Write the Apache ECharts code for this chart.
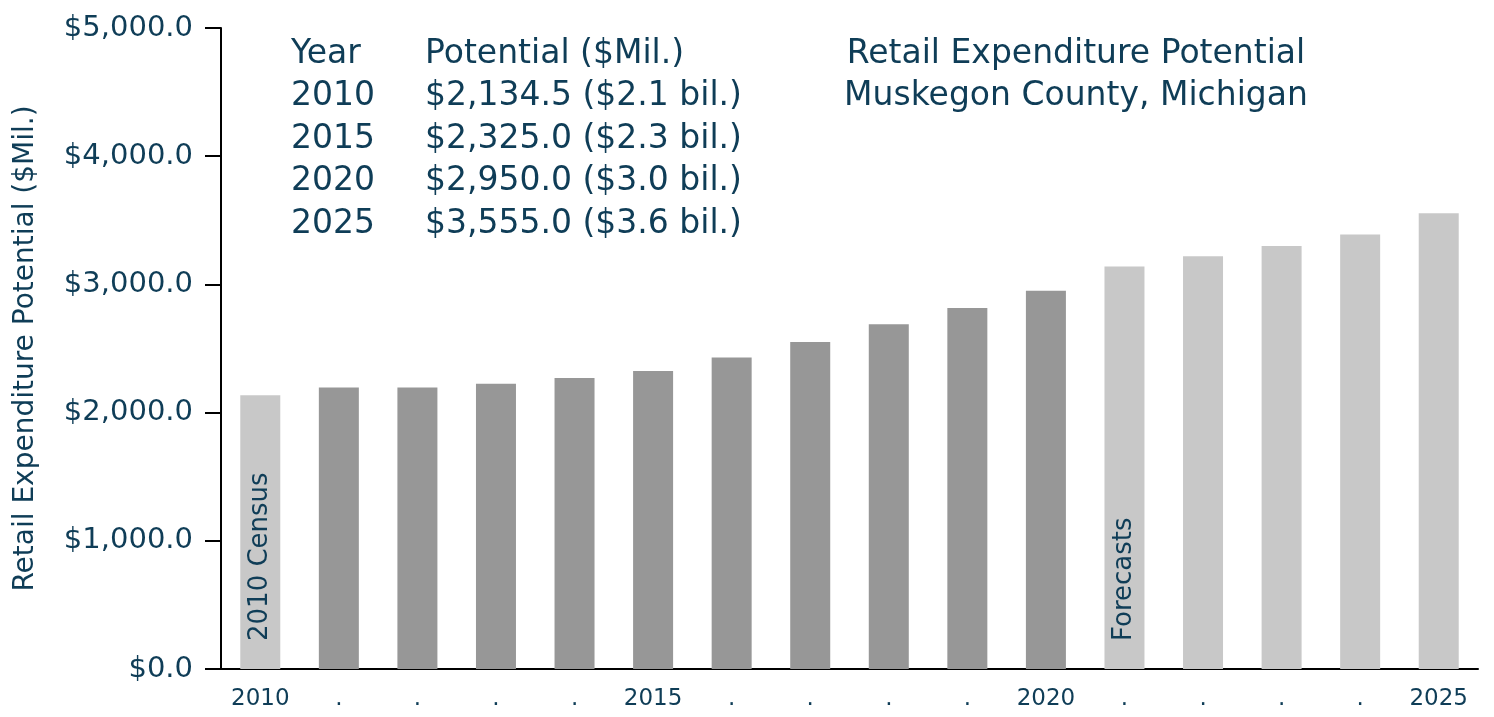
<!DOCTYPE html>
<html>
<head>
<meta charset="utf-8">
<script src="https://cdn.jsdelivr.net/npm/echarts@6/dist/echarts.min.js"></script>
<style>
  html, body { margin: 0; padding: 0; background: #fff; }
  #chart { width: 1494px; height: 717px; }
</style>
</head>
<body>
<div id="chart"></div>
<script>
const years = ['2010', '2011', '2012', '2013', '2014', '2015', '2016', '2017',
  '2018', '2019', '2020', '2021', '2022', '2023', '2024', '2025'];
const potential = [2134.5, 2195, 2195, 2225, 2270, 2325, 2430, 2550,
  2690, 2815, 2950, 3140, 3220, 3300, 3390, 3555];
// census year and forecast years drawn in the light grey
const lightYears = ['2010', '2021', '2022', '2023', '2024', '2025'];
const labelledYears = ['2010', '2015', '2020', '2025'];
const yTicks = [0, 1000, 2000, 3000, 4000, 5000];

const tableHead = ['Year', 'Potential ($Mil.)'];
const tableRows = [
  ['2010', '$2,134.5 ($2.1 bil.)'],
  ['2015', '$2,325.0 ($2.3 bil.)'],
  ['2020', '$2,950.0 ($3.0 bil.)'],
  ['2025', '$3,555.0 ($3.6 bil.)']
];
const titleLines = ['Retail Expenditure Potential', 'Muskegon County, Michigan'];

const TEXT = '#0f3d57';
const FONT = 'DejaVu Sans';
const DARK = '#979797';
const LIGHT = '#c8c8c8';

const barLabels = { '2010': '2010 Census', '2021': 'Forecasts' };

const seriesData = potential.map((v, i) => {
  const y = years[i];
  const item = { value: v, itemStyle: { color: lightYears.includes(y) ? LIGHT : DARK } };
  if (barLabels[y]) {
    item.label = {
      show: true,
      formatter: barLabels[y],
      position: 'insideBottom',
      rotate: 90,
      align: 'left',
      verticalAlign: 'middle',
      distance: 28,
      color: TEXT,
      fontFamily: FONT,
      fontSize: 26
    };
  }
  return item;
});

const graphics = [];
const textFont = '33px "' + FONT + '"';
[tableHead].concat(tableRows).forEach((row, r) => {
  graphics.push({
    type: 'text', x: 291, y: 54 + r * 42.5,
    style: { text: row[0], fill: TEXT, font: textFont, verticalAlign: 'middle' }
  });
  graphics.push({
    type: 'text', x: 425, y: 54 + r * 42.5,
    style: { text: row[1], fill: TEXT, font: textFont, verticalAlign: 'middle' }
  });
});
titleLines.forEach((t, i) => {
  graphics.push({
    type: 'text', x: 1076, y: 54 + i * 42.5,
    style: { text: t, fill: TEXT, font: textFont, align: 'center', verticalAlign: 'middle' }
  });
});

const chart = echarts.init(document.getElementById('chart'));
chart.setOption({
  animation: false,
  backgroundColor: '#fff',
  grid: { left: 221, right: 16, top: 28, bottom: 48 },
  graphic: graphics,
  xAxis: {
    type: 'category',
    data: years,
    boundaryGap: true,
    axisLine: { lineStyle: { color: '#000', width: 2 } },
    axisTick: { alignWithLabel: true, length: 14, lineStyle: { color: '#000', width: 2 } },
    axisLabel: {
      interval: 0,
      margin: 19,
      color: TEXT,
      fontFamily: FONT,
      fontSize: 23,
      formatter: v => labelledYears.includes(v) ? v : '.'
    }
  },
  yAxis: {
    type: 'value',
    min: yTicks[0],
    max: yTicks[yTicks.length - 1],
    interval: 1000,
    name: 'Retail Expenditure Potential ($Mil.)',
    nameLocation: 'middle',
    nameGap: 181,
    nameTextStyle: { color: TEXT, fontFamily: FONT, fontSize: 28 },
    axisLine: { show: true, lineStyle: { color: '#000', width: 2 } },
    axisTick: { show: true, length: 16, lineStyle: { color: '#000', width: 2 } },
    splitLine: { show: false },
    axisLabel: {
      margin: 28,
      color: TEXT,
      fontFamily: FONT,
      fontSize: 29,
      formatter: v => '$' + v.toLocaleString('en-US', { minimumFractionDigits: 1, maximumFractionDigits: 1 })
    }
  },
  series: [{
    type: 'bar',
    data: seriesData,
    barWidth: 40
  }]
});
</script>
</body>
</html>
